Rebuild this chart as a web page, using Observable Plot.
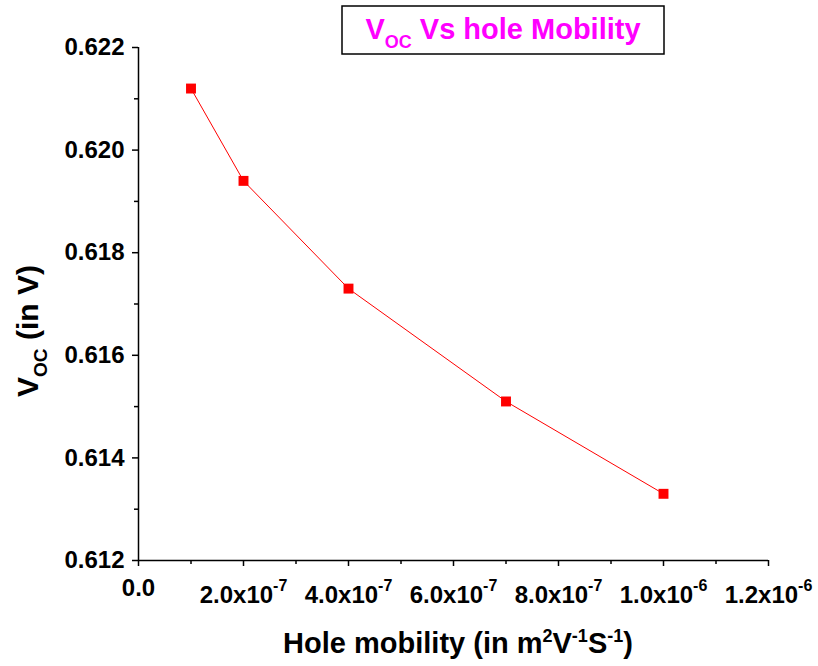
<!DOCTYPE html>
<html><head><meta charset="utf-8">
<script src="https://cdn.jsdelivr.net/npm/d3@7"></script>
<script src="https://cdn.jsdelivr.net/npm/@observablehq/plot@0.6"></script>
<style>
body{margin:0;background:#fff;}
#chart svg{font-family:"Liberation Sans",Arial,sans-serif;font-weight:bold;background:#fff;}
</style>
</head><body><div id="chart"></div>
<script>
// Data
const mobility = [1e-7, 2e-7, 4e-7, 7e-7, 1e-6];
const voc = [0.6212, 0.6194, 0.6173, 0.6151, 0.6133];
// Ticks
const xMajorTicks = [0, 2e-7, 4e-7, 6e-7, 8e-7, 1e-6, 1.2e-6];
const xTickLabels = ["0.0", "2.0x10^-7", "4.0x10^-7", "6.0x10^-7", "8.0x10^-7", "1.0x10^-6", "1.2x10^-6"];
const xMinorTicks = [1e-7, 3e-7, 5e-7, 7e-7, 9e-7, 1.1e-6];
const yMajorTicks = [0.612, 0.614, 0.616, 0.618, 0.620, 0.622];
const yTickLabels = ["0.612", "0.614", "0.616", "0.618", "0.620", "0.622"];
const yMinorTicks = [0.613, 0.615, 0.617, 0.619, 0.621];
// Texts
const titleParts = [["V", "base"], ["OC", "sub"], [" Vs hole Mobility", "base"]];
const yLabelParts = [["V", "base"], ["OC", "sub"], [" (in V)", "base"]];
const xLabelParts = [["Hole mobility (in m", "base"], ["2", "sup"], ["V", "base"], ["-1", "sup"], ["S", "base"], ["-1", "sup"], [")", "base"]];

const data = mobility.map((m, i) => ({m, v: voc[i]}));

const plot = Plot.plot({
  width: 818,
  height: 666,
  marginLeft: 138,
  marginRight: 50,
  marginTop: 47,
  marginBottom: 106,
  x: {domain: [0, 1.2e-6]},
  y: {domain: [0.612, 0.622]},
  marks: [
    Plot.ruleX([0], {stroke: "black", strokeWidth: 1.5}),
    Plot.ruleY([0.612], {stroke: "black", strokeWidth: 1.5}),
    Plot.axisY(yMajorTicks, {tickSize: 6, tickPadding: 8, strokeWidth: 1.5, fontSize: 24, label: null,
      tickFormat: d => yTickLabels[yMajorTicks.indexOf(d)]}),
    Plot.axisY(yMinorTicks, {tickSize: 4, strokeWidth: 1.5, label: null, tickFormat: () => ""}),
    Plot.axisX(xMajorTicks, {tickSize: 6, tickPadding: 12, strokeWidth: 1.5, fontSize: 24, label: null,
      tickFormat: d => xTickLabels[xMajorTicks.indexOf(d)]}),
    Plot.axisX(xMinorTicks, {tickSize: 4, strokeWidth: 1.5, label: null, tickFormat: () => ""}),
    Plot.line(data, {x: "m", y: "v", stroke: "#ff0000", strokeWidth: 1}),
    Plot.dot(data, {x: "m", y: "v", symbol: "square", r: 5.6, fill: "#ff0000", stroke: "none"})
  ]
});

document.getElementById("chart").appendChild(plot);
const svg = d3.select(plot);

// superscripts in x tick labels
svg.selectAll('g[aria-label="x-axis tick label"] text').each(function() {
  const t = d3.select(this);
  const s = t.text();
  if (s.includes("^")) {
    const [base, exp] = s.split("^");
    t.text(null);
    t.append("tspan").attr("dy", 7).text(base);
    t.append("tspan").attr("dy", -12).attr("font-size", 16).text(exp);
  }
});

function addParts(textSel, parts, size) {
  let shift = 0;
  parts.forEach(([s, kind]) => {
    const target = kind === "sub" ? Math.round(size * 0.3) : kind === "sup" ? -Math.round(size * 0.38) : 0;
    const ts = textSel.append("tspan").attr("dy", target - shift).text(s);
    if (kind !== "base") ts.attr("font-size", Math.round(size * 0.62));
    shift = target;
  });
}

// Title box
svg.append("rect").attr("x", 342).attr("y", 6).attr("width", 322).attr("height", 48)
  .attr("fill", "white").attr("stroke", "black").attr("stroke-width", 1.5);
const title = svg.append("text").attr("x", 503).attr("y", 39).attr("text-anchor", "middle")
  .attr("fill", "#ff00ff").attr("font-size", 29);
addParts(title, titleParts, 29);

// Y label
const yl = svg.append("text").attr("transform", "translate(38,331) rotate(-90)")
  .attr("text-anchor", "middle").attr("font-size", 30).attr("fill", "black");
addParts(yl, yLabelParts, 30);

// X label
const xl = svg.append("text").attr("x", 458).attr("y", 653)
  .attr("text-anchor", "middle").attr("font-size", 29).attr("fill", "black");
addParts(xl, xLabelParts, 29);
</script>
</body></html>
